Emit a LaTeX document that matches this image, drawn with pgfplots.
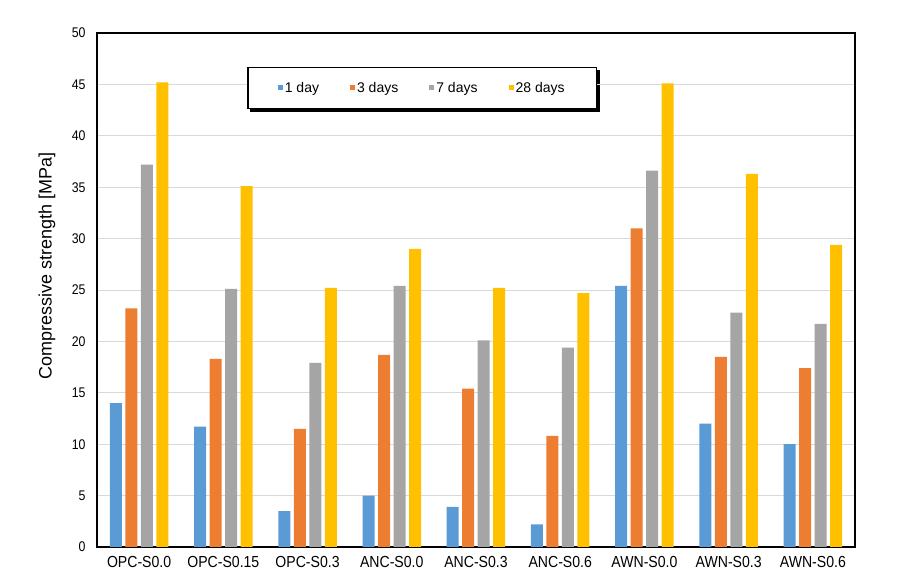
\documentclass[border=0pt]{standalone}
\usepackage{pgfplots}
\pgfplotsset{compat=1.18}
\usepackage{fontspec}
\setmainfont{Liberation Sans}
\newfontfamily\narrow{Liberation Sans}[FakeStretch=0.88]
\usetikzlibrary{backgrounds}
\definecolor{cblue}{HTML}{5B9BD5}
\definecolor{corange}{HTML}{ED7D31}
\definecolor{cgray}{HTML}{A5A5A5}
\definecolor{cyellow}{HTML}{FFC000}
\begin{document}
\begin{tikzpicture}
\begin{axis}[
  scale only axis,
  width=758pt, height=514pt,
  ybar=3.5pt, bar width=12pt,
  xmin=-0.5, xmax=8.5, ymin=0, ymax=50,
  xtick=data,
  xticklabels={OPC-S0.0,OPC-S0.15,OPC-S0.3,ANC-S0.0,ANC-S0.3,ANC-S0.6,AWN-S0.0,AWN-S0.3,AWN-S0.6},
  ytick={0,5,...,50},
  major tick length=0pt,
  /pgf/number format/assume math mode=true,
  xticklabel style={font=\narrow\fontsize{16}{18}\selectfont, yshift=-6pt},
  yticklabel style={font=\narrow\fontsize{14}{16}\selectfont, xshift=-8pt},
  ymajorgrids, grid style={draw=black!15, line width=0.8pt},
  axis line style={line width=2.5pt},
  ylabel={Compressive strength [MPa]},
  ylabel style={font=\fontsize{18}{20}\selectfont, at={(rel axis cs:0,0.547)}, anchor=center, yshift=50pt},
  legend columns=4,
  legend image code/.code={\fill[#1,draw=none] (0pt,-2.5pt) rectangle (5pt,2.5pt);},
  legend style={name=leg, at={(rel axis cs:0.198,0.934)}, anchor=north west,
    font=\fontsize{14}{16}\selectfont, draw=black, line width=1.5pt, fill=white,
    inner xsep=30pt, inner ysep=12.5pt,
    /tikz/every even column/.append style={column sep=29pt}},
  legend cell align=left,
]
\addplot[fill=cblue, draw=none] coordinates {(0,14.0) (1,11.7) (2,3.5) (3,5.0) (4,3.9) (5,2.2) (6,25.4) (7,12.0) (8,10.0)};
\addplot[fill=corange, draw=none] coordinates {(0,23.2) (1,18.3) (2,11.5) (3,18.7) (4,15.4) (5,10.8) (6,31.0) (7,18.5) (8,17.4)};
\addplot[fill=cgray, draw=none] coordinates {(0,37.2) (1,25.1) (2,17.9) (3,25.4) (4,20.1) (5,19.4) (6,36.6) (7,22.8) (8,21.7)};
\addplot[fill=cyellow, draw=none] coordinates {(0,45.2) (1,35.1) (2,25.2) (3,29.0) (4,25.2) (5,24.7) (6,45.1) (7,36.3) (8,29.4)};
\legend{1 day,3 days,7 days,28 days}
\coordinate (O) at (rel axis cs:0,0);
\end{axis}
\begin{scope}[on background layer]
\fill[black] ([shift={(3pt,-3pt)}]leg.south west) rectangle ([shift={(3pt,-3pt)}]leg.north east);
\end{scope}
\pgfresetboundingbox
\path[use as bounding box] ([shift={(-97pt,-41pt)}]O) rectangle ++(902pt,588pt);
\end{tikzpicture}
\end{document}
